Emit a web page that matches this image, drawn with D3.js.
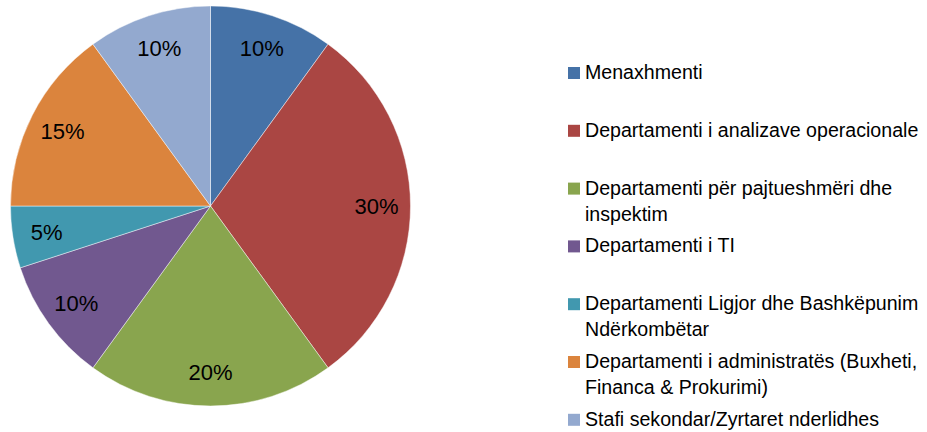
<!DOCTYPE html>
<html>
<head>
<meta charset="utf-8">
<script src="https://cdn.jsdelivr.net/npm/d3@7"></script>
<style>
  body { margin: 0; background: #fff; }
  text { font-family: "Liberation Sans", Arial, sans-serif; fill: #000; }
</style>
</head>
<body>
<div id="chart-area"></div>
<script>
// departments (line breaks = how the legend wraps them)
var categories = [
  "Menaxhmenti",
  "Departamenti i analizave operacionale",
  "Departamenti për pajtueshmëri dhe\ninspektim",
  "Departamenti i TI",
  "Departamenti Ligjor dhe Bashkëpunim\nNdërkombëtar",
  "Departamenti i administratës (Buxheti,\nFinanca & Prokurimi)",
  "Stafi sekondar/Zyrtaret nderlidhes"
];
var shares = [10, 30, 20, 10, 5, 15, 10];
var colors = ["#4572A7", "#AA4643", "#89A54E", "#71588F", "#4198AF", "#DB843D", "#93A9CF"];

var width = 927, height = 432;
var cx = 210.5, cy = 206, radius = 200;

var svg = d3
  .select("#chart-area")
  .append("svg")
  .attr("width", width)
  .attr("height", height);

var pie = d3.pie().sort(null).value(d => d);
var arc = d3.arc().innerRadius(0).outerRadius(radius);
var labelArc = d3.arc().innerRadius(radius * 0.83).outerRadius(radius * 0.83);

var slices = svg
  .append("g")
  .attr("transform", "translate(" + cx + "," + cy + ")")
  .selectAll("g")
  .data(pie(shares))
  .enter()
  .append("g");

slices
  .append("path")
  .attr("d", arc)
  .attr("fill", (d, i) => colors[i])
  .attr("stroke", "#ffffff")
  .attr("stroke-opacity", 0.6)
  .attr("stroke-width", 0.75);

slices
  .append("text")
  .attr("transform", d => "translate(" + labelArc.centroid(d) + ")")
  .attr("text-anchor", "middle")
  .attr("dy", "0.36em")
  .style("font-size", "22px")
  .text(d => d.value + "%");

// legend
var legend = svg
  .append("g")
  .selectAll("g")
  .data(categories)
  .enter()
  .append("g")
  .attr("transform", (d, i) => "translate(568," + (79 + i * 57.8) + ")");

legend
  .append("rect")
  .attr("x", 0)
  .attr("y", -12)
  .attr("width", 12)
  .attr("height", 12)
  .attr("fill", (d, i) => colors[i]);

legend
  .append("text")
  .attr("x", 17)
  .style("font-size", "19.6px")
  .selectAll("tspan")
  .data(d => d.split("\n"))
  .enter()
  .append("tspan")
  .attr("x", 17)
  .attr("dy", (d, i) => (i === 0 ? 0 : 26))
  .text(d => d);
</script>
</body>
</html>
